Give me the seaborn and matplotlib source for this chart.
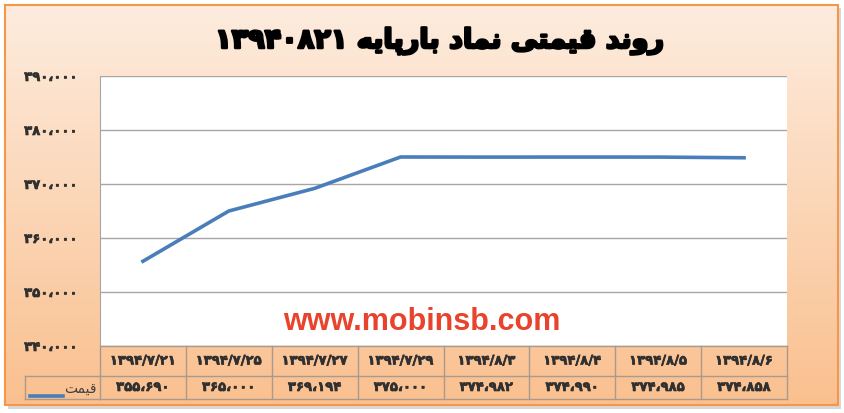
import numpy as np
import pandas as pd
import seaborn as sns
import matplotlib.pyplot as plt
import matplotlib.patheffects as pe
from matplotlib.patches import Rectangle
from matplotlib.lines import Line2D

# chart data
dates = ['1394/7/21', '1394/7/25', '1394/7/27', '1394/7/29',
         '1394/8/3', '1394/8/4', '1394/8/5', '1394/8/6']
prices = [355690, 365000, 369194, 375000, 374982, 374990, 374985, 374858]
yticks = [340000, 350000, 360000, 370000, 380000, 390000]
title_words = 'روند قیمتی نماد بارپایه'
title_number = '13940821'
series_name = 'قیمت'
watermark = 'www.mobinsb.com'

# minimal persian shaping (matplotlib has no arabic shaping / bidi)
FORMS = {
    'ا': ('\uFE8D', '\uFE8E', None, None),
    'ب': ('\uFE8F', '\uFE90', '\uFE91', '\uFE92'),
    'پ': ('\uFB56', '\uFB57', '\uFB58', '\uFB59'),
    'ت': ('\uFE95', '\uFE96', '\uFE97', '\uFE98'),
    'د': ('\uFEA9', '\uFEAA', None, None),
    'ر': ('\uFEAD', '\uFEAE', None, None),
    'ق': ('\uFED5', '\uFED6', '\uFED7', '\uFED8'),
    'م': ('\uFEE1', '\uFEE2', '\uFEE3', '\uFEE4'),
    'ن': ('\uFEE5', '\uFEE6', '\uFEE7', '\uFEE8'),
    'ه': ('\uFEE9', '\uFEEA', '\uFEEB', '\uFEEC'),
    'و': ('\uFEED', '\uFEEE', None, None),
    'ی': ('\uFBFC', '\uFBFD', '\uFBFE', '\uFBFF'),
}


def shape_word(w):
    out = []
    for i, c in enumerate(w):
        if c not in FORMS:
            out.append(c)
            continue
        prev = i > 0 and w[i-1] in FORMS and FORMS[w[i-1]][2] is not None
        nxt = i < len(w)-1 and w[i+1] in FORMS and FORMS[c][2] is not None
        iso, fin, ini, med = FORMS[c]
        if prev and nxt:
            out.append(med)
        elif prev:
            out.append(fin)
        elif nxt:
            out.append(ini)
        else:
            out.append(iso)
    return ''.join(out)[::-1]


def rtl(text):
    return ' '.join(shape_word(w) for w in text.split()[::-1])


FA = str.maketrans('0123456789,', '۰۱۲۳۴۵۶۷۸۹،')


def fa(s):
    return str(s).translate(FA)


def fa_num(n):
    return f'{n:,}'.translate(FA)


df = pd.DataFrame({'date': dates, 'price': prices})
df['pos'] = range(len(df))

W, H = 844, 413
fig = plt.figure(figsize=(W/100, H/100), dpi=100)

# background panel with gradient
bg = fig.add_axes([0, 0, 1, 1], zorder=-5)
bg.set_xlim(0, W)
bg.set_ylim(H, 0)
bg.axis('off')
top = np.array([253, 236, 222]) / 255
bot = np.array([250, 192, 143]) / 255
t = np.linspace(0, 1, 256)[:, None]
grad = (top * (1 - t) + bot * t)[:, None, :]
bg.add_patch(Rectangle((8, 8), 833, 401, color='#bfbfbf', alpha=0.6, lw=0))
bg.imshow(grad, extent=(5, 838, 405, 5), aspect='auto', zorder=1)
bg.add_patch(Rectangle((5, 5), 833, 400, fill=False, ec='#f79646', lw=1.5, zorder=2))

ax = fig.add_axes([100/W, (H-346)/H, 687/W, 270/H])
sns.lineplot(data=df, x='pos', y='price', ax=ax, color='#4a7ebb', linewidth=2.6)
ax.set_xlim(-0.5, len(dates)-0.5)
ax.set_ylim(yticks[0], yticks[-1])
ax.set_yticks(yticks)
ax.set_yticklabels([fa_num(v) for v in yticks], fontweight='bold',
                   fontsize=9.5, color='#303030', family='DejaVu Sans')
bold_fx = [pe.withStroke(linewidth=0.45, foreground='#303030')]
for lab in ax.get_yticklabels():
    lab.set_path_effects(bold_fx)
ax.tick_params(axis='y', length=0, pad=16)
ax.set_xticks([])
ax.set_xlabel('')
ax.set_ylabel('')
ax.grid(axis='y', color='#a6a6a6', lw=1)
for s in ['top', 'right', 'bottom']:
    ax.spines[s].set_visible(False)
ax.spines['left'].set_color('#a6a6a6')
ax.set_facecolor('white')

# data table under the plot
tr = ax.get_xaxis_transform()
r1, r2 = -30/270, -53/270
lc = '#a89a8c'
n = len(dates)
for y in [0, r1, r2]:
    ax.add_line(Line2D([-0.5, n-0.5], [y, y], transform=tr, color=lc, lw=1, clip_on=False))
for i in range(n+1):
    ax.add_line(Line2D([i-0.5, i-0.5], [0, r2], transform=tr, color=lc, lw=1, clip_on=False))
for i, (d, p) in enumerate(zip(df['date'], df['price'])):
    ax.text(i, r1/2, fa(d), transform=tr, ha='center', va='center',
            fontsize=9.5, fontweight='bold', color='#303030', path_effects=bold_fx)
    ax.text(i, (r1+r2)/2, fa_num(p), transform=tr, ha='center', va='center',
            fontsize=9.5, fontweight='bold', color='#303030', path_effects=bold_fx)

# legend cell
ta = ax.transAxes
lx = -75/687
for xs, ys in [([lx, 0], [r1, r1]), ([lx, lx], [r1, r2]), ([lx, 0], [r2, r2])]:
    ax.add_line(Line2D(xs, ys, transform=ta, color=lc, lw=1, clip_on=False))
ax.add_line(Line2D([-70/687, -37/687], [-50/270, -50/270], transform=ta,
                   color='#4a7ebb', lw=2.6, clip_on=False))
ax.text(-3/687, -43/270, rtl(series_name), transform=ta, ha='right', va='center',
        fontsize=10, color='#404040')

ax.text(0.469, 0.09, watermark, transform=ta, ha='center', va='center',
        fontsize=22, fontweight='bold', color='#e8432c', family='Liberation Sans')

fig.text(440/W, 1-41/H, fa(title_number) + ' ' + rtl(title_words),
         ha='center', va='center', fontsize=19.5, fontweight='bold', color='black',
         family='DejaVu Sans',
         path_effects=[pe.withStroke(linewidth=1.8, foreground='black')])

fig.savefig('out.png', dpi=100)
